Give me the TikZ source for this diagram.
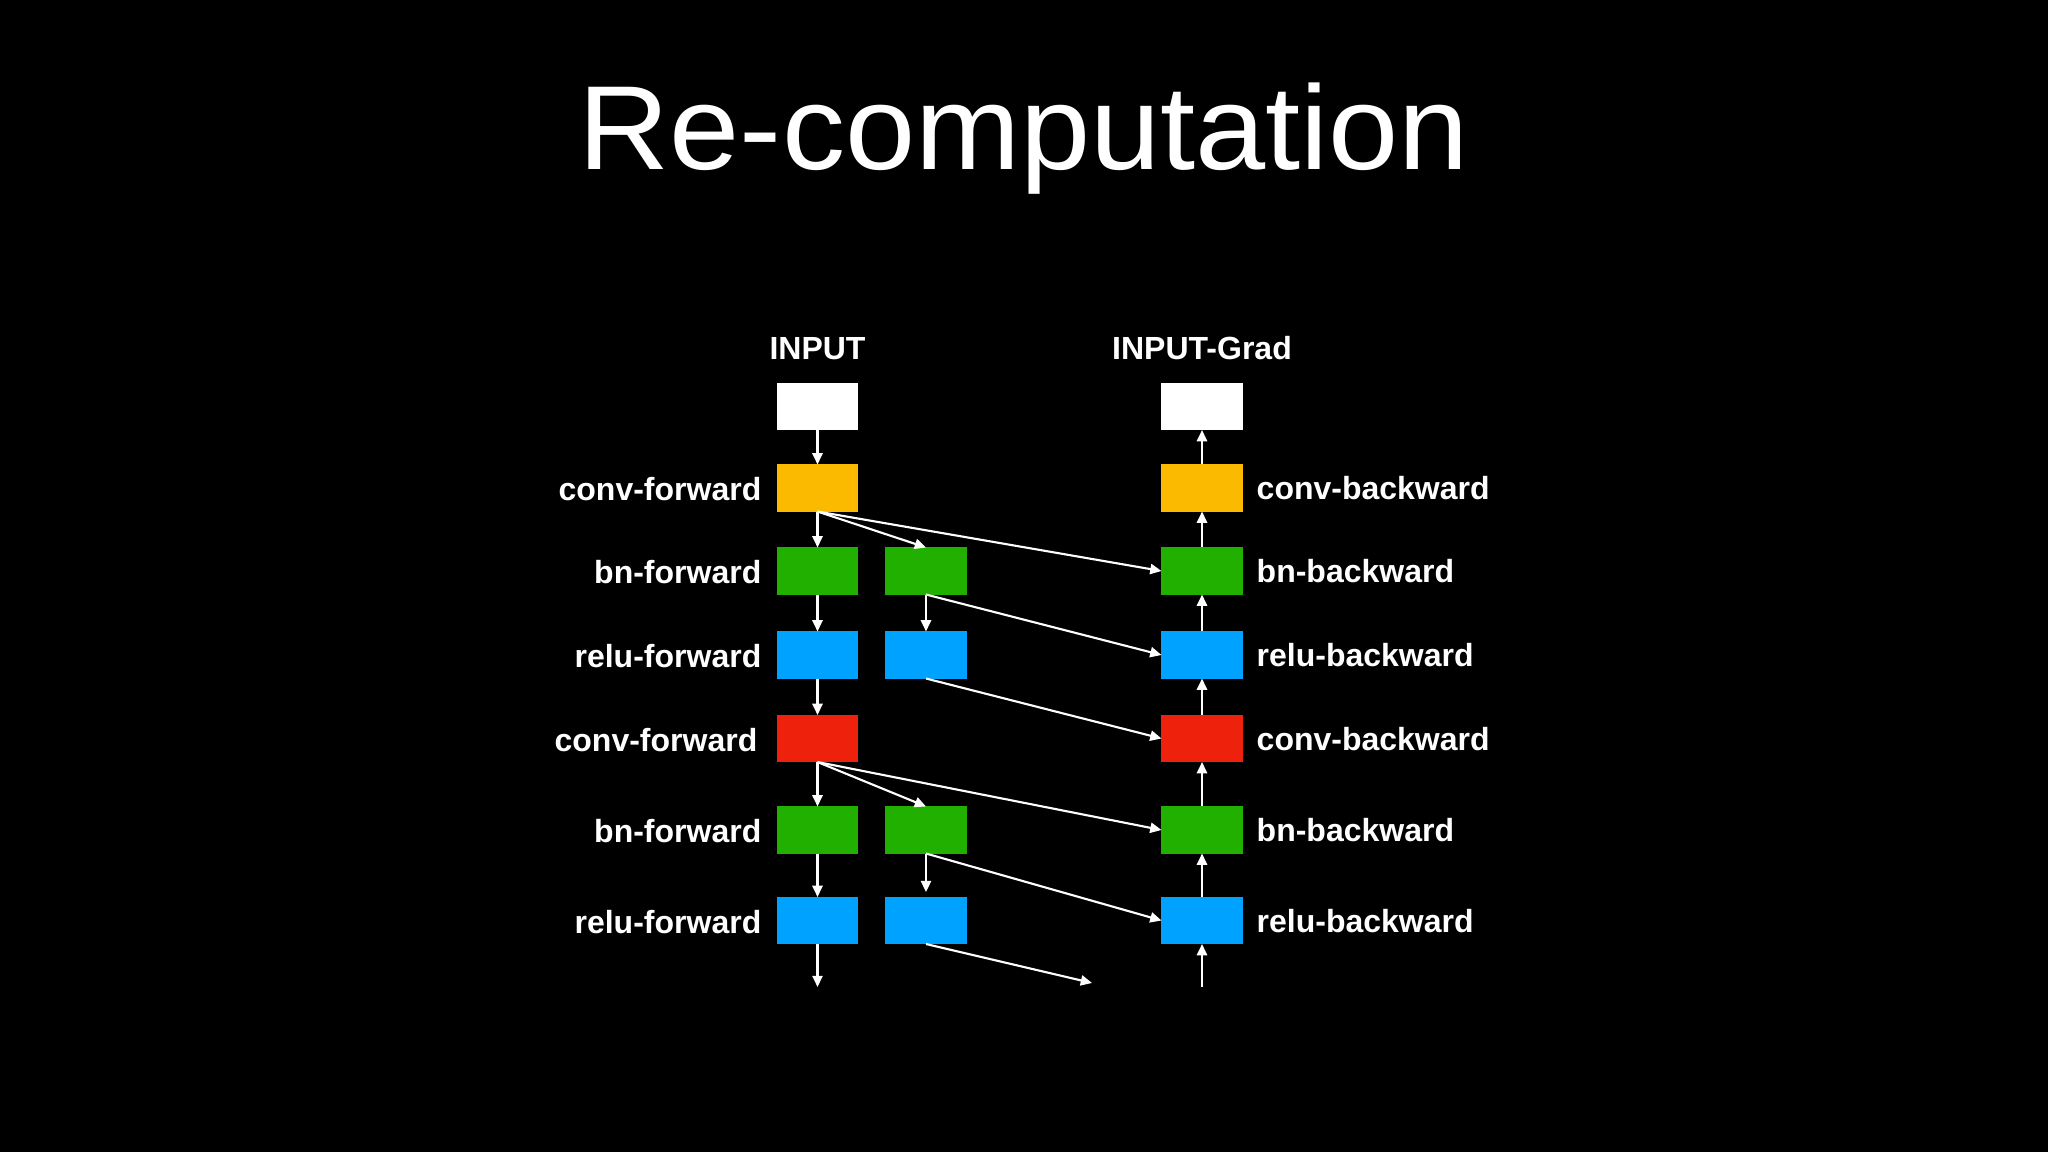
\documentclass[tikz,border=0pt]{standalone}
\usepackage{fontspec}
\setmainfont{Liberation Sans}
\usetikzlibrary{arrows.meta}
\definecolor{cOrange}{HTML}{FBB900}
\definecolor{cGreen}{HTML}{22B000}
\definecolor{cBlue}{HTML}{00A2FF}
\definecolor{cRed}{HTML}{EE220C}
\begin{document}
\begin{tikzpicture}[x=0.01cm,y=-0.01cm,
  blk/.style={minimum width=0.81cm, minimum height=0.47cm, inner sep=0pt, outer sep=0pt},
  lbl/.style={text=white, font=\bfseries\fontsize{9.1}{11}\selectfont, inner sep=0pt},
  arr/.style={draw=white, line width=0.6pt, -{Triangle[length=3.2pt,width=2.9pt]}}]
\fill[black] (0,0) rectangle (2048,1152);
\useasboundingbox (0,0) rectangle (2048,1152);
% title
\node[text=white, font=\fontsize{34}{38}\selectfont, anchor=base, inner sep=0pt, xscale=1.055, transform shape] (title) at (1024,170) {Re-computation};
\node[lbl, anchor=base] (tin) at (817.5,360) {INPUT};
\node[lbl, anchor=base] (tgrad) at (1202,360) {INPUT-Grad};
% column 1
\node[blk, fill=white] (w1) at (817.5,406.5) {};
\node[blk, fill=cOrange] (o1) at (817.5,488) {};
\node[blk, fill=cGreen] (g1) at (817.5,571) {};
\node[blk, fill=cBlue] (b1) at (817.5,655) {};
\node[blk, fill=cRed] (r1) at (817.5,738.5) {};
\node[blk, fill=cGreen] (g2) at (817.5,830) {};
\node[blk, fill=cBlue] (b2) at (817.5,920.5) {};
% column 2
\node[blk, fill=cGreen] (g1b) at (926,571) {};
\node[blk, fill=cBlue] (b1b) at (926,655) {};
\node[blk, fill=cGreen] (g2b) at (926,830) {};
\node[blk, fill=cBlue] (b2b) at (926,920.5) {};
% column 3
\node[blk, fill=white] (w1c) at (1202,406.5) {};
\node[blk, fill=cOrange] (o1c) at (1202,488) {};
\node[blk, fill=cGreen] (g1c) at (1202,571) {};
\node[blk, fill=cBlue] (b1c) at (1202,655) {};
\node[blk, fill=cRed] (r1c) at (1202,738.5) {};
\node[blk, fill=cGreen] (g2c) at (1202,830) {};
\node[blk, fill=cBlue] (b2c) at (1202,920.5) {};
% free ends
\coordinate (end1) at (817.5,987);
\coordinate (end2) at (1092,983);
\coordinate (start3) at (1202,987);
% left labels
\node[lbl, anchor=base east] (l1) at (762,500.5) {conv-forward};
\node[lbl, anchor=base east] (l2) at (762,583.5) {bn-forward};
\node[lbl, anchor=base east] (l3) at (762,667.5) {relu-forward};
\node[lbl, anchor=base east] (l4) at (758,751) {conv-forward};
\node[lbl, anchor=base east] (l5) at (762,842.5) {bn-forward};
\node[lbl, anchor=base east] (l6) at (762,933) {relu-forward};
% right labels
\node[lbl, anchor=base west] (r1l) at (1256,499.5) {conv-backward};
\node[lbl, anchor=base west] (r2l) at (1256,582.5) {bn-backward};
\node[lbl, anchor=base west] (r3l) at (1256,666.5) {relu-backward};
\node[lbl, anchor=base west] (r4l) at (1256,750) {conv-backward};
\node[lbl, anchor=base west] (r5l) at (1256,841.5) {bn-backward};
\node[lbl, anchor=base west] (r6l) at (1256,932) {relu-backward};
% column 1 arrows
\draw[arr] (w1) -- (o1);
\draw[arr] (o1) -- (g1);
\draw[arr] (g1) -- (b1);
\draw[arr] (b1) -- (r1);
\draw[arr] (r1) -- (g2);
\draw[arr] (g2) -- (b2);
\draw[arr] (b2.south) -- (end1);
% column 2 arrows
\draw[arr] (g1b) -- (b1b);
\draw[arr, shorten >=1.4pt] (g2b) -- (b2b);
% column 3 arrows
\draw[arr] (o1c) -- (w1c);
\draw[arr] (g1c) -- (o1c);
\draw[arr] (b1c) -- (g1c);
\draw[arr] (r1c) -- (b1c);
\draw[arr] (g2c) -- (r1c);
\draw[arr] (b2c) -- (g2c);
\draw[arr] (start3) -- (b2c.south);
% diagonal arrows
\draw[arr] (o1.south) -- (g1b.north);
\draw[arr] (o1.south) -- (g1c.west);
\draw[arr] (g1b.south) -- (b1c.west);
\draw[arr] (b1b.south) -- (r1c.west);
\draw[arr] (r1.south) -- (g2b.north);
\draw[arr] (r1.south) -- (g2c.west);
\draw[arr] (g2b.south) -- (b2c.west);
\draw[arr] (b2b.south) -- (end2);
\end{tikzpicture}
\end{document}
